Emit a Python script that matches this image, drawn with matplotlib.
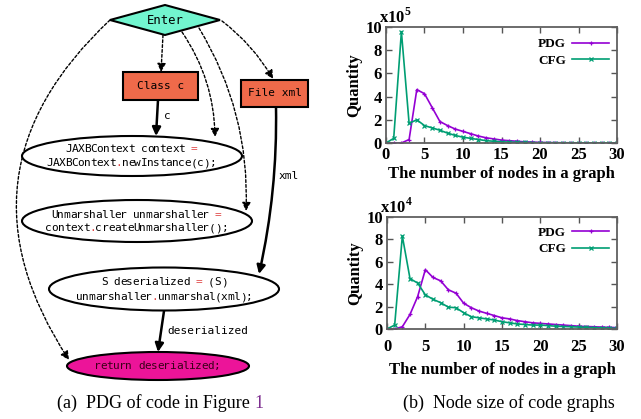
import matplotlib.pyplot as plt
import numpy as np
from matplotlib.patches import Ellipse, Rectangle, Polygon, FancyArrowPatch

# node-size distributions
nodes = np.arange(0, 31)
pdg_top = [0, 0, 0, 0.3, 4.6, 4.25, 3.05, 1.85, 1.5, 1.2, 1.0, 0.8, 0.6, 0.45, 0.35,
           0.25, 0.2, 0.15, 0.1, 0.08, 0.05, 0.04, 0.03, 0.02, 0.02, 0.01, 0.01, 0, 0, 0, 0]
cfg_top = [0, 0.4, 9.6, 1.7, 2.0, 1.5, 1.3, 1.1, 0.85, 0.65, 0.5, 0.4, 0.3, 0.2, 0.15,
           0.1, 0.08, 0.06, 0.05, 0.03, 0.02, 0.02, 0.01, 0.01, 0, 0, 0, 0, 0, 0, 0]
pdg_bot = [0, 0, 0.2, 1.3, 2.9, 5.3, 4.6, 4.3, 3.5, 3.2, 2.3, 1.9, 1.6, 1.4, 1.2,
           1.0, 0.9, 0.75, 0.65, 0.55, 0.5, 0.45, 0.4, 0.35, 0.3, 0.25, 0.22, 0.2, 0.17, 0.15, 0.12]
cfg_bot = [0, 0.35, 8.3, 4.5, 4.1, 3.05, 2.65, 2.35, 1.95, 1.9, 1.45, 1.1, 1.0, 0.9, 0.8,
           0.65, 0.55, 0.45, 0.4, 0.35, 0.35, 0.3, 0.25, 0.22, 0.2, 0.17, 0.15, 0.12, 0.1, 0.08, 0.06]

PURPLE = '#9400D3'
GREEN = '#009E73'
MONO = 'DejaVu Sans Mono'
SERIF = 'Liberation Serif'

plt.rcParams['mathtext.fontset'] = 'custom'
plt.rcParams['mathtext.rm'] = 'Liberation Serif:bold'

fig = plt.figure(figsize=(6.41, 4.19), dpi=100)

# ---- left: program dependence graph, drawn in pixel coordinates ----
d = fig.add_axes([0, 0, 1, 1])
d.set_xlim(0, 641)
d.set_ylim(419, 0)
d.axis('off')

d.add_patch(Polygon([[110, 20], [165, 5], [220, 20], [165, 35]], closed=True,
                    fc='#72F5CF', ec='black', lw=1.5, zorder=3))
d.text(165, 20, 'Enter', family=MONO, fontsize=8.8, ha='center', va='center', zorder=4)

d.add_patch(Rectangle((123, 72), 75, 28, fc='#EF6A4A', ec='black', lw=1.5, zorder=3))
d.text(160.5, 86, 'Class c', family=MONO, fontsize=8, ha='center', va='center', zorder=4)
d.add_patch(Rectangle((241, 80), 67, 27, fc='#EF6A4A', ec='black', lw=1.5, zorder=3))
d.text(274.5, 93.5, 'File xml', family=MONO, fontsize=8, ha='center', va='center', zorder=4)

d.add_patch(Ellipse((132, 156), 220, 40, fc='white', ec='black', lw=1.5, zorder=3))
d.add_patch(Ellipse((137, 221), 230, 42, fc='white', ec='black', lw=1.5, zorder=3))
d.add_patch(Ellipse((164, 289), 230, 43, fc='white', ec='black', lw=1.5, zorder=3))
d.add_patch(Ellipse((158, 366), 182, 28, fc='#EC1499', ec='black', lw=1.5, zorder=3))

CW = 6.3  # monospace advance in pixels


def code(x, y, s, color='black'):
    # red '=' and '.' like syntax highlighting
    for i, c in enumerate(s):
        if c != ' ':
            col = '#E04848' if c in '=.' else color
            d.text(x + i * CW, y, c, family=MONO, fontsize=8, color=col,
                   ha='left', va='center', zorder=4)


code(65, 149, 'JAXBContext context =')
code(46, 163, 'JAXBContext.newInstance(c);')
code(51, 215, 'Unmarshaller unmarshaller =')
code(45, 228, 'context.createUnmarshaller();')
code(101, 282, 'S deserialized = (S)')
code(76, 297, 'unmarshaller.unmarshal(xml);')
code(94, 366, 'return deserialized;', color='#3A0018')


def edge(p0, p1, rad=0.0, dashed=False):
    a = FancyArrowPatch(p0, p1, connectionstyle='arc3,rad=%s' % rad,
                        arrowstyle='-|>,head_length=5,head_width=2.5',
                        lw=1.0 if dashed else 1.8, ls=(0, (2, 1.5)) if dashed else '-',
                        color='black', shrinkA=0, shrinkB=0, zorder=2)
    d.add_patch(a)


edge((163, 35), (161, 72), dashed=True)
edge((182, 32), (215, 137), rad=-0.15, dashed=True)
edge((199, 28), (246, 211), rad=-0.15, dashed=True)
edge((222, 21), (273, 79), rad=-0.1, dashed=True)
edge((110, 20), (69, 360), rad=0.42, dashed=True)
edge((158, 100), (156, 136))
edge((276, 107), (259, 274), rad=-0.06)
edge((164, 311), (158, 352))
d.text(164, 116, 'c', family=MONO, fontsize=8, ha='left', va='center')
d.text(279, 176, 'xml', family=MONO, fontsize=8, ha='left', va='center')
d.text(167, 331, 'deserialized', family=MONO, fontsize=8, ha='left', va='center')

cap = d.text(57, 403, '(a)  PDG of code in Figure ', family=SERIF, fontsize=13,
             ha='left', va='center')
fig.canvas.draw()
bb = cap.get_window_extent()
d.text(bb.x1, 403, '1', family=SERIF, fontsize=13, color='#7D2E8F', ha='left', va='center')
d.text(509, 403, '(b)  Node size of code graphs', family=SERIF, fontsize=13,
       ha='center', va='center')


# ---- right: node size charts ----
def chart(rect, pdg, cfg, exp, leg_y, xpad, lpad):
    ax = fig.add_axes(rect)
    ax.plot(nodes, pdg, color=PURPLE, lw=1.2, marker='+', ms=3.5, mew=0.9, label='PDG')
    ax.plot(nodes, cfg, color=GREEN, lw=1.2, marker='x', ms=2.5, mew=0.9, label='CFG')
    ax.set_xlim(0, 30)
    ax.set_ylim(0, 10)
    ax.set_xticks(range(0, 31, 5))
    ax.set_yticks(range(0, 11, 2))
    ax.tick_params(direction='in', top=True, right=True, length=4, width=1,
                   color='#555555', pad=3)
    ax.tick_params(axis='x', pad=xpad)
    for lab in ax.get_xticklabels() + ax.get_yticklabels():
        lab.set_fontfamily(SERIF)
        lab.set_fontweight('bold')
        lab.set_fontsize(12)
    for s in ax.spines.values():
        s.set_color('#606060')
        s.set_linewidth(1.3)
    ax.set_xlabel('The number of nodes in a graph', family=SERIF, fontweight='bold',
                  fontsize=12, labelpad=lpad)
    ax.set_ylabel('Quantity', family=SERIF, fontweight='bold', fontsize=12, labelpad=2)
    ax.text(-0.03, 1.0, 'x10$^{%s}$' % exp, transform=ax.transAxes, family=SERIF,
            fontweight='bold', fontsize=12, ha='left', va='bottom')
    ax.legend(loc='upper right', bbox_to_anchor=(0.99, leg_y), frameon=False,
              markerfirst=False, handlelength=2.8, handletextpad=0.5, labelspacing=0.3,
              borderaxespad=0, prop=dict(family=SERIF, weight='bold', size=9.5))
    return ax


chart([386 / 641, 1 - 143 / 419, 231 / 641, 116 / 419], pdg_top, cfg_top, '5', 0.95, 3, 2)
chart([387 / 641, 1 - 329 / 419, 230 / 641, 112 / 419], pdg_bot, cfg_bot, '4', 0.96, 7, 5)

fig.savefig('out.png', dpi=100)
